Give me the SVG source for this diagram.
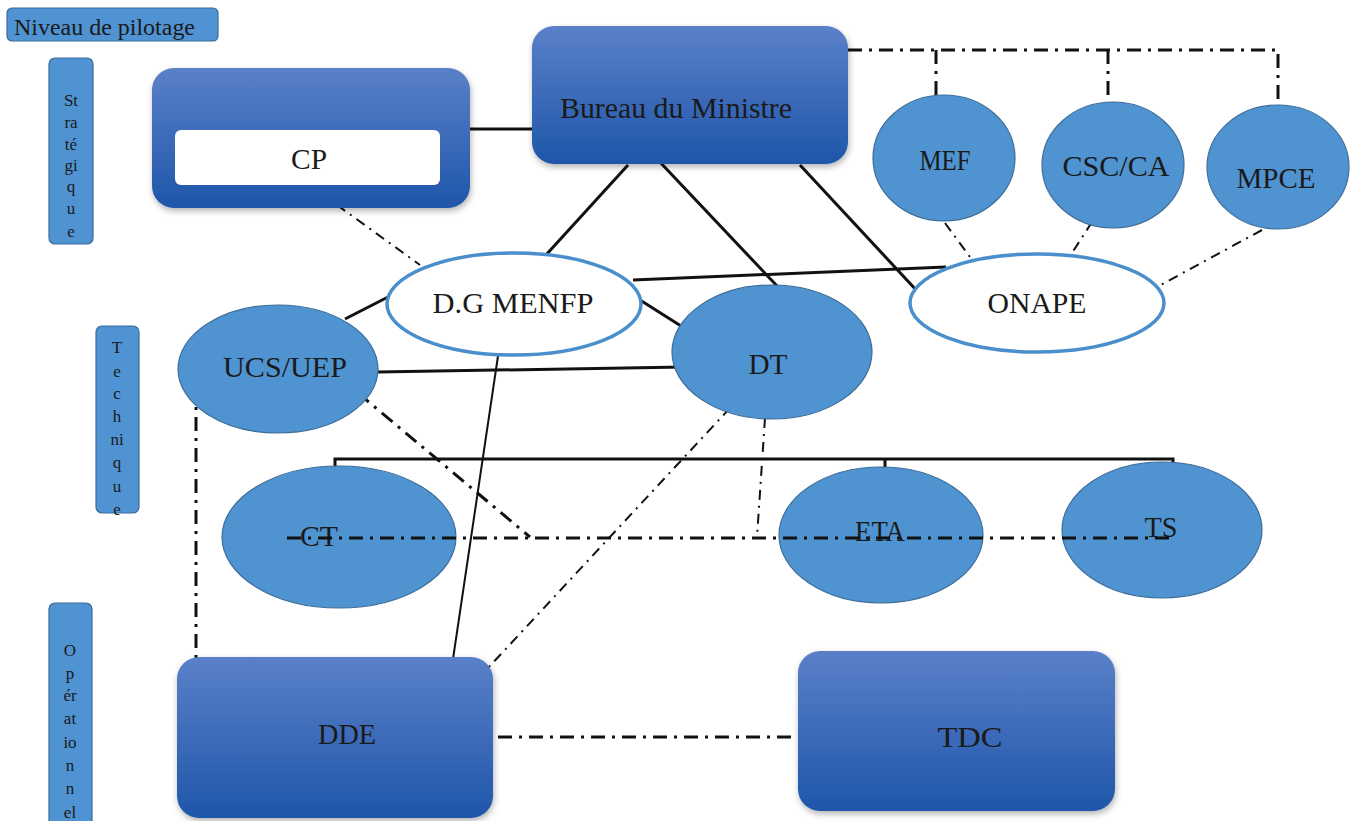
<svg xmlns="http://www.w3.org/2000/svg" width="1355" height="821" viewBox="0 0 1355 821">
<defs>
<linearGradient id="bg" x1="0" y1="0" x2="0" y2="1">
<stop offset="0" stop-color="#5a80c8"/>
<stop offset="1" stop-color="#1f56aa"/>
</linearGradient>
<filter id="sh" x="-10%" y="-10%" width="125%" height="130%">
<feDropShadow dx="1" dy="3" stdDeviation="3" flood-color="#000" flood-opacity="0.3"/>
</filter>
<style>
.t{font-family:"Liberation Serif","Times New Roman",serif;fill:#1a1a1a;text-anchor:middle;font-size:30px}
.lab{fill:#4f93d2;stroke:#3b6a9a;stroke-width:1.2}
.lt{font-family:"Liberation Serif","Times New Roman",serif;fill:#1a1a1a;font-size:17px;text-anchor:middle}
.box{fill:url(#bg);filter:url(#sh)}
.ell{fill:#4f93d0;stroke:#3e6d9a;stroke-width:1.2}
.wel{fill:#fff;stroke:#4a8fcc;stroke-width:3.5}
.s{stroke:#111;stroke-width:3;fill:none}
.s2{stroke:#111;stroke-width:2;fill:none}
.d{stroke:#111;stroke-width:3;fill:none;stroke-dasharray:14 7 3 7}
.d2{stroke:#111;stroke-width:2;fill:none;stroke-dasharray:10 6 2 6}
</style>
</defs>
<rect width="1355" height="821" fill="#fff"/>

<g id="levels">
<rect class="lab" x="7" y="8" width="211" height="33" rx="5"/>
<text x="14" y="35" font-family="Liberation Serif, serif" font-size="23" fill="#1a1a1a" textLength="181" lengthAdjust="spacingAndGlyphs">Niveau de pilotage</text>
<rect class="lab" x="49" y="58" width="44" height="186" rx="6"/>
<text class="lt"><tspan x="71" y="106">St</tspan><tspan x="71" y="128">ra</tspan><tspan x="71" y="150">té</tspan><tspan x="71" y="171">gi</tspan><tspan x="71" y="192">q</tspan><tspan x="71" y="214">u</tspan><tspan x="71" y="237">e</tspan></text>
<rect class="lab" x="96" y="326" width="43" height="187" rx="6"/>
<text class="lt"><tspan x="117" y="353">T</tspan><tspan x="117" y="377">e</tspan><tspan x="117" y="399">c</tspan><tspan x="117" y="422">h</tspan><tspan x="117" y="445">ni</tspan><tspan x="117" y="468">q</tspan><tspan x="117" y="492">u</tspan><tspan x="117" y="515">e</tspan></text>
<rect class="lab" x="49" y="603" width="43" height="230" rx="6"/>
<text class="lt"><tspan x="70" y="656">O</tspan><tspan x="70" y="679">p</tspan><tspan x="70" y="701">ér</tspan><tspan x="70" y="724">at</tspan><tspan x="70" y="748">io</tspan><tspan x="70" y="771">n</tspan><tspan x="70" y="794">n</tspan><tspan x="70" y="818">el</tspan></text>
</g>

<g id="connectors">
<line class="s" x1="470" y1="129" x2="532" y2="129"/>
<line class="s" x1="628" y1="165" x2="545" y2="256"/>
<line class="s" x1="658" y1="160" x2="778" y2="287"/>
<line class="s" x1="800" y1="165" x2="918" y2="292"/>
<line class="s" x1="633" y1="280" x2="946" y2="267"/>
<line class="s" x1="388" y1="297" x2="345" y2="319"/>
<line class="s" x1="640" y1="300" x2="681" y2="326"/>
<line class="s" x1="378" y1="372" x2="684" y2="367"/>
<line class="s2" x1="498" y1="356" x2="453" y2="659"/>
<polyline class="s" points="335,475 335,459 1173,459 1173,463"/>
<line class="s" x1="885" y1="459" x2="885" y2="467"/>
<polyline class="d" points="848,50 1278,50 1278,105"/>
<line class="d" x1="936" y1="50" x2="936" y2="95"/>
<line class="d" x1="1108" y1="50" x2="1108" y2="102"/>
<line class="d2" x1="337" y1="205" x2="420" y2="265"/>
<line class="d2" x1="945" y1="223" x2="970" y2="257"/>
<line class="d2" x1="1092" y1="222" x2="1072" y2="253"/>
<line class="d2" x1="1262" y1="230" x2="1157" y2="287"/>
<line class="d" x1="196" y1="386" x2="196" y2="659"/>
<line class="d" x1="358" y1="393" x2="530" y2="537"/>
<line class="d2" x1="730" y1="408" x2="488" y2="668"/>
<line class="d2" x1="765" y1="418" x2="757" y2="537"/>
<line class="d" x1="498" y1="737" x2="796" y2="737"/>
</g>

<g id="CP">
<rect class="box" x="152" y="68" width="318" height="140" rx="22"/>
<rect x="175" y="130" width="265" height="55" rx="6" fill="#fff"/>
<text class="t" x="309" y="169" textLength="36" lengthAdjust="spacingAndGlyphs">CP</text>
</g>
<g id="Bureau">
<rect class="box" x="532" y="26" width="316" height="138" rx="22"/>
<text class="t" x="676" y="118" textLength="232" lengthAdjust="spacingAndGlyphs">Bureau du Ministre</text>
</g>
<g id="MEF"><ellipse class="ell" cx="944" cy="158" rx="71" ry="63"/><text class="t" x="945" y="170" textLength="51" lengthAdjust="spacingAndGlyphs">MEF</text></g>
<g id="CSCCA"><ellipse class="ell" cx="1113" cy="165" rx="71" ry="63"/><text class="t" x="1116" y="176" textLength="107" lengthAdjust="spacingAndGlyphs">CSC/CA</text></g>
<g id="MPCE"><ellipse class="ell" cx="1278" cy="167" rx="71" ry="62"/><text class="t" x="1276" y="188" textLength="79" lengthAdjust="spacingAndGlyphs">MPCE</text></g>
<g id="ONAPE"><ellipse class="wel" cx="1037" cy="303" rx="127" ry="49"/><text class="t" x="1037" y="313" textLength="99" lengthAdjust="spacingAndGlyphs">ONAPE</text></g>
<g id="DGMENFP"><ellipse class="wel" cx="514" cy="304" rx="127" ry="51"/><text class="t" x="513" y="313" textLength="161" lengthAdjust="spacingAndGlyphs">D.G MENFP</text></g>
<g id="UCSUEP"><ellipse class="ell" cx="278" cy="369" rx="100" ry="64"/><text class="t" x="285" y="377" textLength="124" lengthAdjust="spacingAndGlyphs">UCS/UEP</text></g>
<g id="DT"><ellipse class="ell" cx="772" cy="352" rx="100" ry="67"/><text class="t" x="768" y="374" textLength="39" lengthAdjust="spacingAndGlyphs">DT</text></g>
<g id="CT"><ellipse class="ell" cx="339" cy="537" rx="117" ry="71"/><text class="t" x="319" y="546" textLength="38" lengthAdjust="spacingAndGlyphs">CT</text></g>
<g id="ETA"><ellipse class="ell" cx="881" cy="535" rx="102" ry="68"/><text class="t" x="880" y="541" textLength="50" lengthAdjust="spacingAndGlyphs">ETA</text></g>
<g id="TS"><ellipse class="ell" cx="1162" cy="530" rx="100" ry="68"/><text class="t" x="1161" y="537" textLength="33" lengthAdjust="spacingAndGlyphs">TS</text></g>
<g id="midline"><line class="d" x1="287" y1="538" x2="1172" y2="538"/></g>
<g id="DDE">
<rect class="box" x="177" y="657" width="316" height="161" rx="22"/>
<text class="t" x="347" y="744" textLength="58" lengthAdjust="spacingAndGlyphs">DDE</text>
</g>
<g id="TDC">
<rect class="box" x="798" y="651" width="317" height="160" rx="22"/>
<text class="t" x="970" y="747" textLength="65" lengthAdjust="spacingAndGlyphs">TDC</text>
</g>
</svg>
